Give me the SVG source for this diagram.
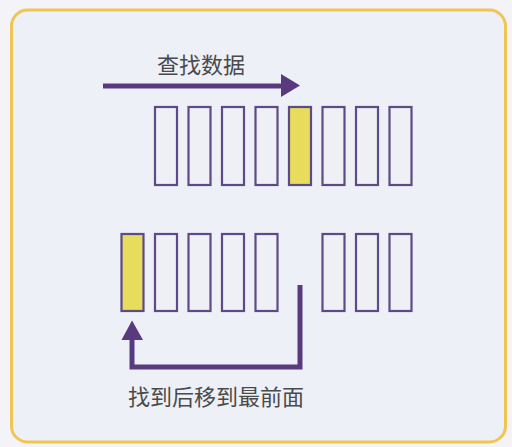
<svg xmlns="http://www.w3.org/2000/svg" width="512" height="447" viewBox="0 0 512 447">
  <style>
    .cell { fill: #eef0f6; stroke: #5e4a86; stroke-width: 2.2; }
    .hit { fill: #e8dc5c; stroke: #5e4a86; stroke-width: 2.2; }
    .lbl { font-family: "Noto Sans CJK SC", "Liberation Sans", sans-serif; font-size: 22px; fill: #4a4a4a; }
    .conn { fill: none; stroke: #5a3a7e; stroke-width: 5; }
    .head { fill: #5a3a7e; }
  </style>
  <rect x="0" y="0" width="512" height="447" fill="#f3f3f8"/>
  <rect id="frame" x="11.5" y="10" width="494" height="432" rx="16" ry="16" fill="#eef0f7" stroke="#f0c552" stroke-width="3"/>

  <g id="label-search"><text class="lbl" x="157" y="73">查找数据</text></g>
  <g id="label-move"><text class="lbl" x="128" y="405">找到后移到最前面</text></g>

  <g id="row-top">
    <rect class="cell" x="155" y="107" width="22" height="78"/>
    <rect class="cell" x="188.5" y="107" width="22" height="78"/>
    <rect class="cell" x="222" y="107" width="22" height="78"/>
    <rect class="cell" x="255.5" y="107" width="22" height="78"/>
    <rect class="hit" x="289" y="107" width="22" height="78"/>
    <rect class="cell" x="322.5" y="107" width="22" height="78"/>
    <rect class="cell" x="356" y="107" width="22" height="78"/>
    <rect class="cell" x="389.5" y="107" width="22" height="78"/>
  </g>

  <g id="row-bottom">
    <rect class="hit" x="121.5" y="234" width="22" height="77"/>
    <rect class="cell" x="155" y="234" width="22" height="77"/>
    <rect class="cell" x="188.5" y="234" width="22" height="77"/>
    <rect class="cell" x="222" y="234" width="22" height="77"/>
    <rect class="cell" x="255.5" y="234" width="22" height="77"/>
    <rect class="cell" x="322.5" y="234" width="22" height="77"/>
    <rect class="cell" x="356" y="234" width="22" height="77"/>
    <rect class="cell" x="389.5" y="234" width="22" height="77"/>
  </g>

  <g id="connectors">
    <line class="conn" x1="103" y1="86" x2="283" y2="86"/>
    <polygon class="head" points="281,74 300,85.5 281,97"/>
    <polyline class="conn" points="300,285 300,367 132,367 132,338"/>
    <polygon class="head" points="121.5,340 132,320.5 143,340"/>
  </g>
</svg>
